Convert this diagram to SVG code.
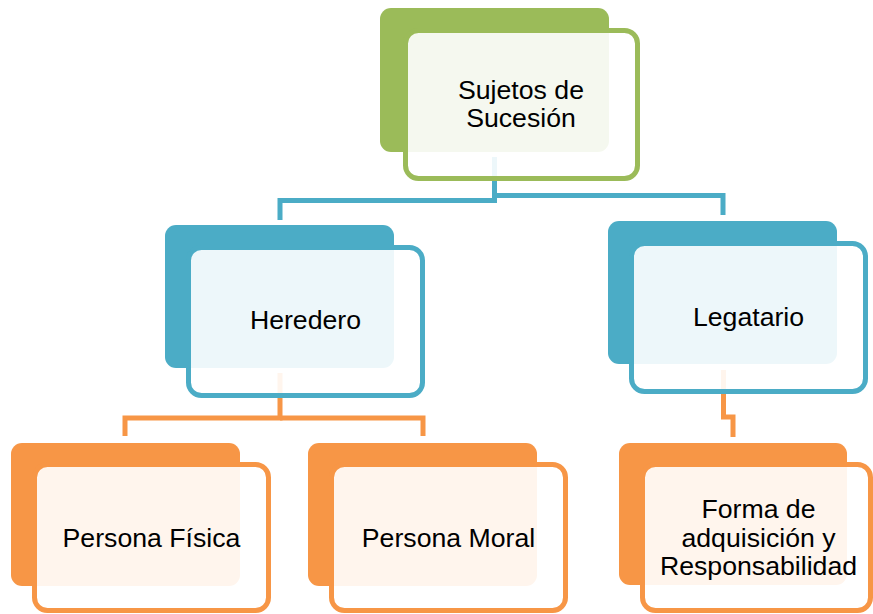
<svg xmlns="http://www.w3.org/2000/svg" width="873" height="614" viewBox="0 0 873 614">
<style>
.solid{rx:11px}
.g .solid{fill:#9bbb59}
.b .solid{fill:#4bacc6}
.o .solid{fill:#f79646}
.frame{fill:#ffffff;fill-opacity:0.9;stroke-width:5}
.g .frame{stroke:#9bbb59}
.b .frame{stroke:#4bacc6}
.o .frame{stroke:#f79646}
.conn{fill:none;stroke-width:5;stroke-linejoin:miter}
.cb{stroke:#4bacc6}
.co{stroke:#f79646}
text{font-family:"Liberation Sans",Arial,sans-serif;font-size:26.67px;fill:#000;text-anchor:middle}
</style>
<rect width="873" height="614" fill="#ffffff"/>
<g id="connectors">
<path class="conn cb" d="M494.5,157 V200.5 H280 V220"/>
<path class="conn cb" d="M494.5,195.5 H723 V215"/>
<path class="conn co" d="M280,373 V418 H125 V436"/>
<path class="conn co" d="M280,418 H423 V436"/>
<path class="conn co" d="M723.5,370 V417 H733 V437"/>
</g>
<g id="node-sujetos" class="g">
<rect class="solid" x="380" y="8" width="229" height="144" rx="11"/>
<rect class="frame" x="405.5" y="30.5" width="232" height="148" rx="13"/>
<text x="521" y="99">Sujetos de</text>
<text x="521" y="127">Sucesión</text>
</g>
<g id="node-heredero" class="b">
<rect class="solid" x="165" y="225" width="229" height="143" rx="11"/>
<rect class="frame" x="188.5" y="247.5" width="234" height="148" rx="13"/>
<text x="305.5" y="329">Heredero</text>
</g>
<g id="node-legatario" class="b">
<rect class="solid" x="608" y="221" width="229" height="143" rx="11"/>
<rect class="frame" x="631.5" y="243.5" width="234" height="148" rx="13"/>
<text x="748.5" y="326">Legatario</text>
</g>
<g id="node-fisica" class="o">
<rect class="solid" x="11" y="443" width="229" height="143" rx="11"/>
<rect class="frame" x="34.5" y="464.5" width="234" height="146" rx="13"/>
<text x="151.5" y="546.5">Persona Física</text>
</g>
<g id="node-moral" class="o">
<rect class="solid" x="308" y="443" width="229" height="143" rx="11"/>
<rect class="frame" x="331.5" y="464.5" width="234" height="146" rx="13"/>
<text x="448.5" y="546.5">Persona Moral</text>
</g>
<g id="node-forma" class="o">
<rect class="solid" x="619" y="443" width="228" height="142" rx="11"/>
<rect class="frame" x="642.5" y="464.5" width="228" height="146" rx="13"/>
<text x="758.5" y="518">Forma de</text>
<text x="758.5" y="546.5">adquisición y</text>
<text x="758.5" y="574.5">Responsabilidad</text>
</g>
</svg>
